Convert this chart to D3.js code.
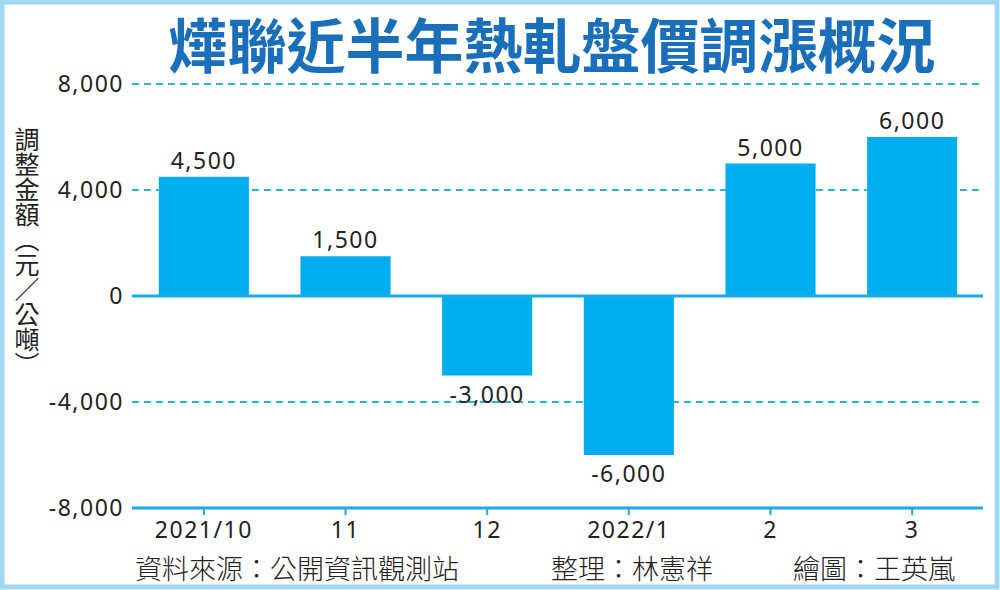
<!DOCTYPE html>
<html>
<head>
<meta charset="utf-8">
<script src="https://cdn.jsdelivr.net/npm/d3@7"></script>
<style>
  html, body { margin: 0; padding: 0; background: #fff; }
  svg { display: block; }
  text { font-family: "Noto Sans", "Noto Sans CJK TC", sans-serif; }
  .cjk { font-family: "Noto Sans CJK TC", sans-serif; }
  .num { font-family: "Noto Sans", sans-serif; font-size: 23px; letter-spacing: 1.5px; fill: #222; }
</style>
</head>
<body>
<div id="vis"></div>
<script>
'use strict'

// data
const months = ["2021/10", "11", "12", "2022/1", "2", "3"];
const values = [4500, 1500, -3000, -6000, 5000, 6000];
const yTicks = [-8000, -4000, 0, 4000, 8000];

const title = "燁聯近半年熱軋盤價調漲概況";
const yLabel = "調整金額（元／公噸）";
const credits = [
  { text: "資料來源：公開資訊觀測站", x: 135 },
  { text: "整理：林憲祥", x: 551 },
  { text: "繪圖：王英嵐", x: 793 }
];

////////////////////////////////////////
////////////// SVG Setup ///////////////
////////////////////////////////////////

const W = 1000, H = 590;
const margin = { top: 84, right: 17, bottom: 82, left: 133 };

const svg = d3.select('#vis').append('svg')
  .attr('width', W)
  .attr('height', H);

// frame
svg.append('rect')
  .attr('x', 2).attr('y', 2)
  .attr('width', W - 5).attr('height', H - 5)
  .attr('fill', '#fff')
  .attr('stroke', '#9fd8f2')
  .attr('stroke-width', 5);

////////////////////////////////////////
////////////// Scales //////////////////
////////////////////////////////////////

const x = d3.scaleBand()
  .domain(months)
  .range([margin.left, W - margin.right])
  .paddingInner(0.364)
  .paddingOuter(0.182);

const y = d3.scaleLinear()
  .domain([-8000, 8000])
  .range([H - margin.bottom, margin.top]);

// hyphen minus, like the original
const fmt = d => d3.format(",")(d).replace("−", "-");

////////////////////////////////////////
////////////// Grid & Axes /////////////
////////////////////////////////////////

svg.append('g')
  .selectAll('line')
  .data(yTicks.filter(d => d !== 0 && d !== -8000))
  .join('line')
  .attr('x1', margin.left - 1)
  .attr('x2', W - margin.right)
  .attr('y1', d => y(d))
  .attr('y2', d => y(d))
  .attr('stroke', '#2db6d2')
  .attr('stroke-width', 2)
  .attr('stroke-dasharray', '7,5');

svg.append('g')
  .selectAll('text')
  .data(yTicks)
  .join('text')
  .attr('class', 'num')
  .attr('x', 124)
  .attr('y', d => y(d))
  .attr('dy', '0.36em')
  .attr('text-anchor', 'end')
  .text(d => fmt(d));

// bars
svg.append('g')
  .selectAll('rect')
  .data(values)
  .join('rect')
  .attr('x', (d, i) => x(months[i]))
  .attr('width', x.bandwidth())
  .attr('y', d => y(Math.max(0, d)))
  .attr('height', d => Math.abs(y(d) - y(0)))
  .attr('fill', '#00aeef');

// zero line
svg.append('line')
  .attr('x1', margin.left - 1)
  .attr('x2', W - margin.right)
  .attr('y1', y(0))
  .attr('y2', y(0))
  .attr('stroke', '#1aa9e3')
  .attr('stroke-width', 3);

// bottom axis
const xAxis = svg.append('g')
  .attr('transform', `translate(0,${y(-8000)})`)
  .call(d3.axisBottom(x).tickSize(7).tickPadding(7));

xAxis.select('.domain')
  .attr('d', `M${margin.left - 1},0H${W - margin.right}`)
  .attr('stroke', '#1aa9e3')
  .attr('stroke-width', 3);
xAxis.selectAll('.tick line')
  .attr('stroke', '#1aa9e3')
  .attr('stroke-width', 2);
xAxis.selectAll('.tick text')
  .attr('class', 'num')
  .attr('font-size', null)
  .attr('font-family', null)
  .attr('fill', null);

// value labels
svg.append('g')
  .selectAll('text')
  .data(values)
  .join('text')
  .attr('class', 'num')
  .attr('x', (d, i) => x(months[i]) + x.bandwidth() / 2)
  .attr('y', d => d >= 0 ? y(d) - 8 : y(d) + 27)
  .attr('text-anchor', 'middle')
  .text(d => fmt(d));

////////////////////////////////////////
////////////// Texts ///////////////////
////////////////////////////////////////

svg.append('text')
  .attr('class', 'cjk')
  .attr('x', 552)
  .attr('y', 68)
  .attr('text-anchor', 'middle')
  .attr('font-size', 59)
  .attr('font-weight', 'bold')
  .attr('fill', '#1a6fba')
  .text(title);

svg.append('text')
  .attr('class', 'cjk')
  .attr('x', 27)
  .attr('y', 127)
  .attr('font-size', 25)
  .attr('fill', '#222')
  .style('writing-mode', 'vertical-rl')
  .text(yLabel);

svg.append('g')
  .selectAll('text')
  .data(credits)
  .join('text')
  .attr('class', 'cjk')
  .attr('x', d => d.x)
  .attr('y', 579)
  .attr('font-size', 27)
  .attr('font-weight', 300)
  .attr('fill', '#222')
  .text(d => d.text);
</script>
</body>
</html>
